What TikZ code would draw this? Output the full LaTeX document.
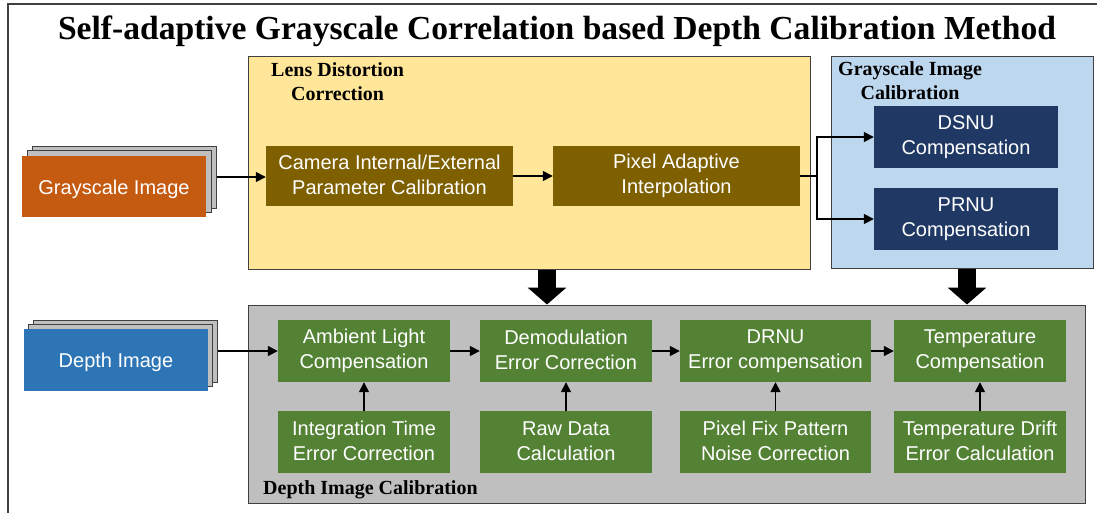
\documentclass[tikz,border=0pt]{standalone}
\usepackage{fontspec}
\setmainfont{Liberation Serif}
\newfontfamily\arialfont{Liberation Sans}
\usetikzlibrary{arrows.meta,positioning}
\definecolor{lensyellow}{HTML}{FFE699}
\definecolor{lensbrown}{HTML}{7F6000}
\definecolor{grayblue}{HTML}{BDD7EE}
\definecolor{navybox}{HTML}{203864}
\definecolor{grayorange}{HTML}{C55A11}
\definecolor{depthblue}{HTML}{2E75B6}
\definecolor{stepgreen}{HTML}{548235}
\definecolor{panelgray}{HTML}{BFBFBF}
\definecolor{framegray}{HTML}{404040}
\tikzset{
  stepbox/.style={inner sep=0pt, align=center, text=white,
    minimum width=172pt, minimum height=62pt,
    execute at begin node={\rule{0pt}{20pt}},
    execute at end node={\rule[-2.2pt]{0pt}{2.2pt}},
    font=\arialfont\fontsize{20}{24.5}\selectfont},
  panel/.style={draw=framegray, line width=1pt, inner sep=0pt},
  grouplabel/.style={inner sep=0pt, align=center,
    font=\bfseries\fontsize{20}{24.5}\selectfont},
  stackbox/.style={draw=framegray, fill=panelgray, line width=1pt, inner sep=0pt,
    minimum width=184pt, minimum height=62pt},
  flow/.style={line width=1.6pt, -{Triangle[length=10pt,width=10pt]}},
  bigflow/.style={line width=18pt, -{Triangle[length=17pt,width=38pt]}}
}
\begin{document}
\begin{tikzpicture}[x=1pt,y=-1pt]
        \useasboundingbox[fill=white] (0,0) rectangle (1097,512);
        \clip (0,0) rectangle (1097,512);
        % cornice esterna
        \draw[framegray, line width=1.5pt] (8,4) rectangle (1130,540);
        % titolo
        \node[font=\bfseries\fontsize{33.6}{40}\selectfont] (title) at (557,31)
          {Self-adaptive Grayscale Correlation based Depth Calibration Method};
        % pannelli
        \node[panel, fill=lensyellow, minimum width=562pt, minimum height=213pt] (lens) at (529,162.5) {};
        \node[panel, fill=grayblue, minimum width=262pt, minimum height=212pt] (grayc) at (962,162) {};
        \node[panel, fill=panelgray, minimum width=837pt, minimum height=198pt] (depthc) at (666.5,404) {};
        \node[grouplabel, anchor=north west] (lenslabel) at (271,62) {Lens Distortion\\Correction};
        \node[grouplabel, anchor=north west] (graylabel) at (838,61) {Grayscale Image\\Calibration};
        \node[grouplabel, anchor=west] (depthlabel) at (263,490) {Depth Image Calibration};
        % immagini in ingresso
        \node[stackbox] (gback) at (124,177) {};
        \node[stackbox] (gmid) at (119,181.5) {};
        \node[stepbox, fill=grayorange, minimum width=184pt, minimum height=61pt] (grayimg) at (114,186.5) {Grayscale Image};
        \node[stackbox] (dback) at (125,351) {};
        \node[stackbox] (dmid) at (120.5,355.5) {};
        \node[stepbox, fill=depthblue, minimum width=184pt] (depthimg) at (116,360) {Depth Image};
        % correzione distorsione
        \node[stepbox, fill=lensbrown, minimum width=247pt, minimum height=60pt] (cam) at (389.5,176) {Camera Internal/External\\Parameter Calibration};
        \node[stepbox, fill=lensbrown, minimum width=247pt, minimum height=60pt] (pix) at (676.5,176) {Pixel Adaptive\\Interpolation};
        % calibrazione grigio
        \node[stepbox, fill=navybox, minimum width=184pt] (dsnu) at (966,137) {DSNU\\Compensation};
        \node[stepbox, fill=navybox, minimum width=184pt] (prnu) at (966,219) {PRNU\\Compensation};
        % calibrazione profondita
        \node[stepbox, fill=stepgreen] (amb) at (364,351) {Ambient Light\\Compensation};
        \node[stepbox, fill=stepgreen] (demod) at (566,351) {Demodulation\\Error Correction};
        \node[stepbox, fill=stepgreen, minimum width=191pt] (drnu) at (775.5,351) {DRNU\\Error compensation};
        \node[stepbox, fill=stepgreen] (temp) at (980,351) {Temperature\\Compensation};
        \node[stepbox, fill=stepgreen] (integ) at (364,442) {Integration Time\\Error Correction};
        \node[stepbox, fill=stepgreen] (raw) at (566,442) {Raw Data\\Calculation};
        \node[stepbox, fill=stepgreen, minimum width=191pt] (fpn) at (775.5,442) {Pixel Fix Pattern\\Noise Correction};
        \node[stepbox, fill=stepgreen] (drift) at (980,442) {Temperature Drift\\Error Calculation};
        % frecce
        \coordinate (split) at (817,176);
        \coordinate (dropA) at (547,0);
        \coordinate (dropB) at (967,0);
        \draw[flow] (gback.east) -- (gback.east -| cam.west);
        \draw[flow] (cam) -- (pix);
        \draw[flow] (pix.east) -- (split) |- (dsnu.west);
        \draw[flow] (split) |- (prnu.west);
        \draw[flow] (dback.east) -- (dback.east -| amb.west);
        \draw[flow] (amb) -- (demod);
        \draw[flow] (demod) -- (drnu);
        \draw[flow] (drnu) -- (temp);
        \draw[flow] (integ) -- (amb);
        \draw[flow] (raw) -- (demod);
        \draw[flow] (fpn) -- (drnu);
        \draw[flow] (drift) -- (temp);
        \draw[bigflow] (lens.south -| dropA) -- (depthc.north -| dropA);
        \draw[bigflow] (grayc.south -| dropB) -- (depthc.north -| dropB);
    \end{tikzpicture}
\end{document}
